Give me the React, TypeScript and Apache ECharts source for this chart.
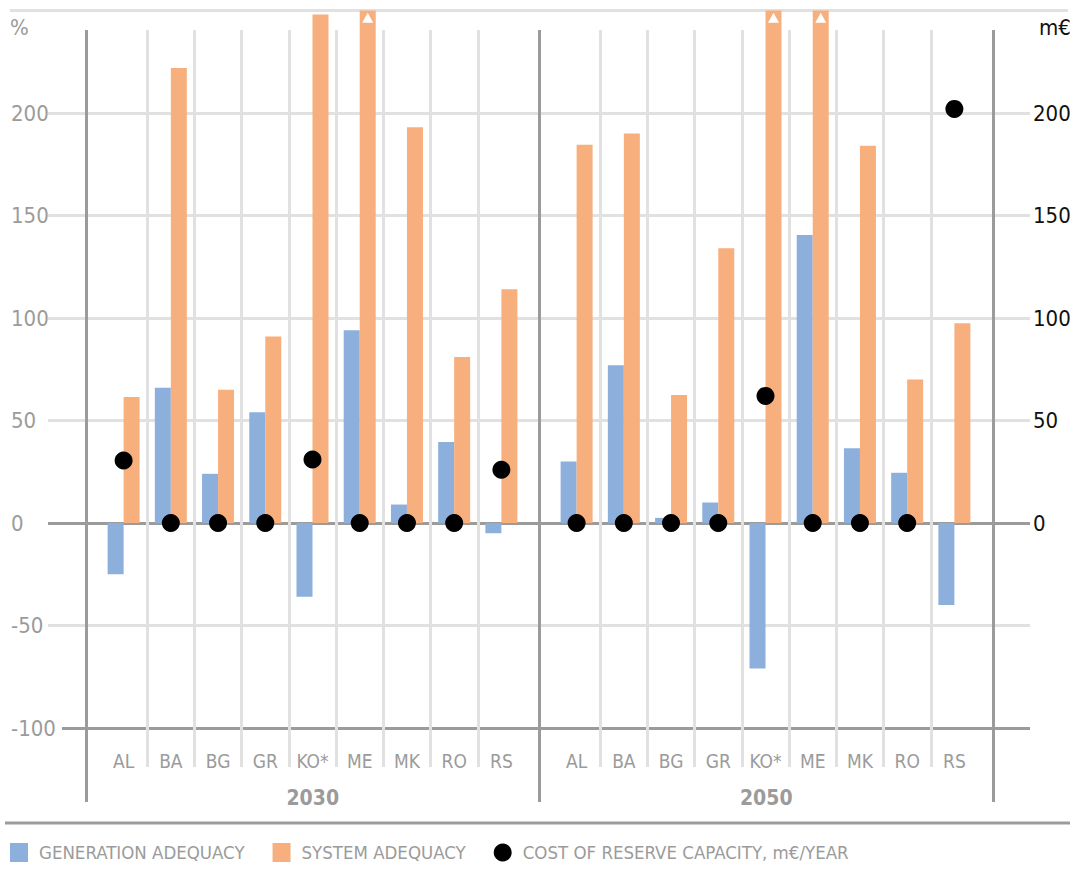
import React, { useEffect, useRef } from "react";
import * as echarts from "echarts";

// ---- data ----
const countries = ["AL", "BA", "BG", "GR", "KO*", "ME", "MK", "RO", "RS"];
const years = ["2030", "2050"];
const genAdequacy2030 = [-25, 66, 24, 54, -36, 94, 9, 39.5, -5];
const sysAdequacy2030 = [61.5, 222, 65, 91, 248, 290, 193, 81, 114];
const reserveCost2030 = [30.5, 0, 0, 0, 31, 0, 0, 0, 26];
const genAdequacy2050 = [30, 77, 2.5, 10, -71, 140.5, 36.5, 24.5, -40];
const sysAdequacy2050 = [184.5, 190, 62.5, 134, 290, 290, 184, 70, 97.5];
const reserveCost2050 = [0, 0, 0, 0, 62, 0, 0, 0, 202];
const pctTicks = [-100, -50, 0, 50, 100, 150, 200];
const meurTicks = [0, 50, 100, 150, 200];

const AXIS_MIN = -100;
const AXIS_MAX = 250;
const NAME_GEN = "GENERATION ADEQUACY";
const NAME_SYS = "SYSTEM ADEQUACY";
const NAME_COST = "COST OF RESERVE CAPACITY, m€/YEAR";

const FONT = "'DejaVu Sans Condensed', 'Liberation Sans Narrow', sans-serif";
const GRAY = "#9b9b9b";
const LIGHT = "#e1e1e1";
const BLUE = "#8cafdc";
const ORANGE = "#f7af7e";
const NONE = "rgba(0,0,0,0)";

export default function App() {
  const ref = useRef<HTMLDivElement>(null);
  useEffect(() => {
    if (!ref.current) return;
    const chart = echarts.init(ref.current, undefined, { renderer: "svg" });

    const TOP = 10.5;
    const BOTTOM = 874 - 728;
    const baseGrid = { outerBoundsMode: "none", containLabel: false };
    const grids = [
      { ...baseGrid, left: 48, right: 52, top: TOP, bottom: BOTTOM }, // 0 background
      { ...baseGrid, left: 100, width: 425, top: TOP, bottom: BOTTOM }, // 1 bars 2030
      { ...baseGrid, left: 553, width: 425, top: TOP, bottom: BOTTOM }, // 2 bars 2050
      { ...baseGrid, left: 100, width: 425, top: 30, bottom: 874 - 767 }, // 3 v-lines 2030
      { ...baseGrid, left: 553, width: 425, top: 30, bottom: 874 - 767 }, // 4 v-lines 2050
      { ...baseGrid, left: 86, width: 907, top: 30, bottom: 874 - 802 }, // 5 group lines
      { ...baseGrid, left: 62, right: 52, top: TOP, bottom: BOTTOM }, // 6 bottom (-100) line
    ];

    const hiddenValueX = (gridIndex: number) => ({
      type: "value", gridIndex, show: false, min: 0, max: 1,
    });
    const countryAxis = (gridIndex: number) => ({
      type: "category", gridIndex, data: countries, boundaryGap: true,
      axisLine: { show: false }, axisTick: { show: false }, splitLine: { show: false },
      axisLabel: { fontFamily: FONT, fontSize: 19, color: GRAY, margin: 23 },
    });
    const vLineAxis = (gridIndex: number) => ({
      type: "category", gridIndex, data: countries, boundaryGap: true,
      axisLine: { show: false }, axisTick: { show: false }, axisLabel: { show: false },
      splitLine: { show: true, showMinLine: false, showMaxLine: false, lineStyle: { color: LIGHT, width: 3 } },
    });

    const xAxis = [
      hiddenValueX(0),
      countryAxis(1),
      countryAxis(2),
      vLineAxis(3),
      vLineAxis(4),
      {
        type: "category", gridIndex: 5, data: years, boundaryGap: true,
        axisLine: { show: false }, axisTick: { show: false },
        splitLine: { show: true, lineStyle: { color: GRAY, width: 3 } },
        axisLabel: { inside: true, margin: -6, fontFamily: FONT, fontSize: 21, fontWeight: "bold", color: GRAY },
      },
      hiddenValueX(6),
    ];

    const hiddenY = (gridIndex: number) => ({
      type: "value", gridIndex, show: false, min: AXIS_MIN, max: AXIS_MAX, interval: 50,
      splitLine: { show: false },
    });
    const splitColors = [NONE, LIGHT, GRAY, LIGHT, LIGHT, LIGHT, LIGHT, LIGHT];

    const yAxis = [
      {
        type: "value", gridIndex: 0, position: "left", min: AXIS_MIN, max: AXIS_MAX, interval: 50,
        axisLine: { show: false }, axisTick: { show: false },
        axisLabel: {
          fontFamily: FONT, fontSize: 22, color: GRAY, align: "left", margin: 37,
          formatter: (v: number) => (pctTicks.includes(v) ? String(v) : ""),
        },
        splitLine: { show: true, lineStyle: { color: splitColors, width: 3 } },
      },
      {
        type: "value", gridIndex: 0, position: "right", min: AXIS_MIN, max: AXIS_MAX, interval: 50,
        axisLine: { show: false }, axisTick: { show: false },
        axisLabel: {
          fontFamily: FONT, fontSize: 22, color: "#111", align: "left", margin: 3,
          formatter: (v: number) => (meurTicks.includes(v) ? String(v) : ""),
        },
        splitLine: { show: false },
      },
      hiddenY(1), // 2: % for 2030
      hiddenY(1), // 3: m€ for 2030
      hiddenY(2), // 4: % for 2050
      hiddenY(2), // 5: m€ for 2050
      { type: "value", gridIndex: 3, show: false, min: 0, max: 1 },
      { type: "value", gridIndex: 4, show: false, min: 0, max: 1 },
      { type: "value", gridIndex: 5, show: false, min: 0, max: 1 },
      {
        type: "value", gridIndex: 6, min: AXIS_MIN, max: AXIS_MAX, interval: AXIS_MAX - AXIS_MIN,
        axisLine: { show: false }, axisTick: { show: false }, axisLabel: { show: false },
        splitLine: { show: true, showMaxLine: false, lineStyle: { color: GRAY, width: 3 } },
      },
    ];

    const overflow = (arr: number[]) => arr.map((v) => (v > AXIS_MAX ? AXIS_MAX - 3.5 : null));

    const groupSeries = (xi: number, yPct: number, yMeur: number, gen: number[], sys: number[], cost: number[]) => [
      {
        name: NAME_GEN, type: "bar", xAxisIndex: xi, yAxisIndex: yPct, data: gen,
        barWidth: 16, barGap: "0%", itemStyle: { color: BLUE }, clip: true,
      },
      {
        name: NAME_SYS, type: "bar", xAxisIndex: xi, yAxisIndex: yPct, data: sys,
        barWidth: 16, barGap: "0%", itemStyle: { color: ORANGE }, clip: true,
      },
      {
        name: "overflow", type: "scatter", xAxisIndex: xi, yAxisIndex: yPct, data: overflow(sys),
        symbol: "triangle", symbolSize: [11, 10], symbolOffset: [8, 0],
        itemStyle: { color: "#ffffff", opacity: 1 }, z: 4, silent: true,
      },
      {
        name: NAME_COST, type: "scatter", xAxisIndex: xi, yAxisIndex: yMeur, data: cost,
        symbol: "circle", symbolSize: 18, itemStyle: { color: "#000000", opacity: 1 }, z: 5,
      },
    ];

    chart.setOption({
      animation: false,
      backgroundColor: "#ffffff",
      textStyle: { fontFamily: FONT },
      grid: grids,
      xAxis,
      yAxis,
      legend: {
        left: 10, top: 843, padding: 0, itemGap: 28, itemWidth: 18, itemHeight: 19,
        selectedMode: false,
        textStyle: { fontFamily: FONT, fontSize: 18.5, color: GRAY, padding: [0, 0, 0, 6] },
        data: [
          { name: NAME_GEN, icon: "rect", itemStyle: { color: BLUE } },
          { name: NAME_SYS, icon: "rect", itemStyle: { color: ORANGE } },
          { name: NAME_COST, icon: "circle", itemStyle: { color: "#000000", opacity: 1 } },
        ],
      },
      graphic: [
        { type: "line", shape: { x1: 10, y1: 10.5, x2: 1068, y2: 10.5 }, style: { stroke: LIGHT, lineWidth: 3 }, z: 1 },
        { type: "line", shape: { x1: 5, y1: 823, x2: 1070, y2: 823 }, style: { stroke: GRAY, lineWidth: 3 } },
        { type: "text", x: 10, y: 16, style: { text: "%", fontFamily: FONT, fontSize: 22, fill: GRAY } },
        { type: "text", x: 1039, y: 16, style: { text: "m€", fontFamily: FONT, fontSize: 22, fill: "#111" } },
      ],
      series: [
        ...groupSeries(1, 2, 3, genAdequacy2030, sysAdequacy2030, reserveCost2030),
        ...groupSeries(2, 4, 5, genAdequacy2050, sysAdequacy2050, reserveCost2050),
      ],
    });
    return () => chart.dispose();
  }, []);

  return (
    <div
      ref={ref}
      style={{ position: "fixed", left: 0, top: 0, width: 1082, height: 874, background: "#fff" }}
    />
  );
}
